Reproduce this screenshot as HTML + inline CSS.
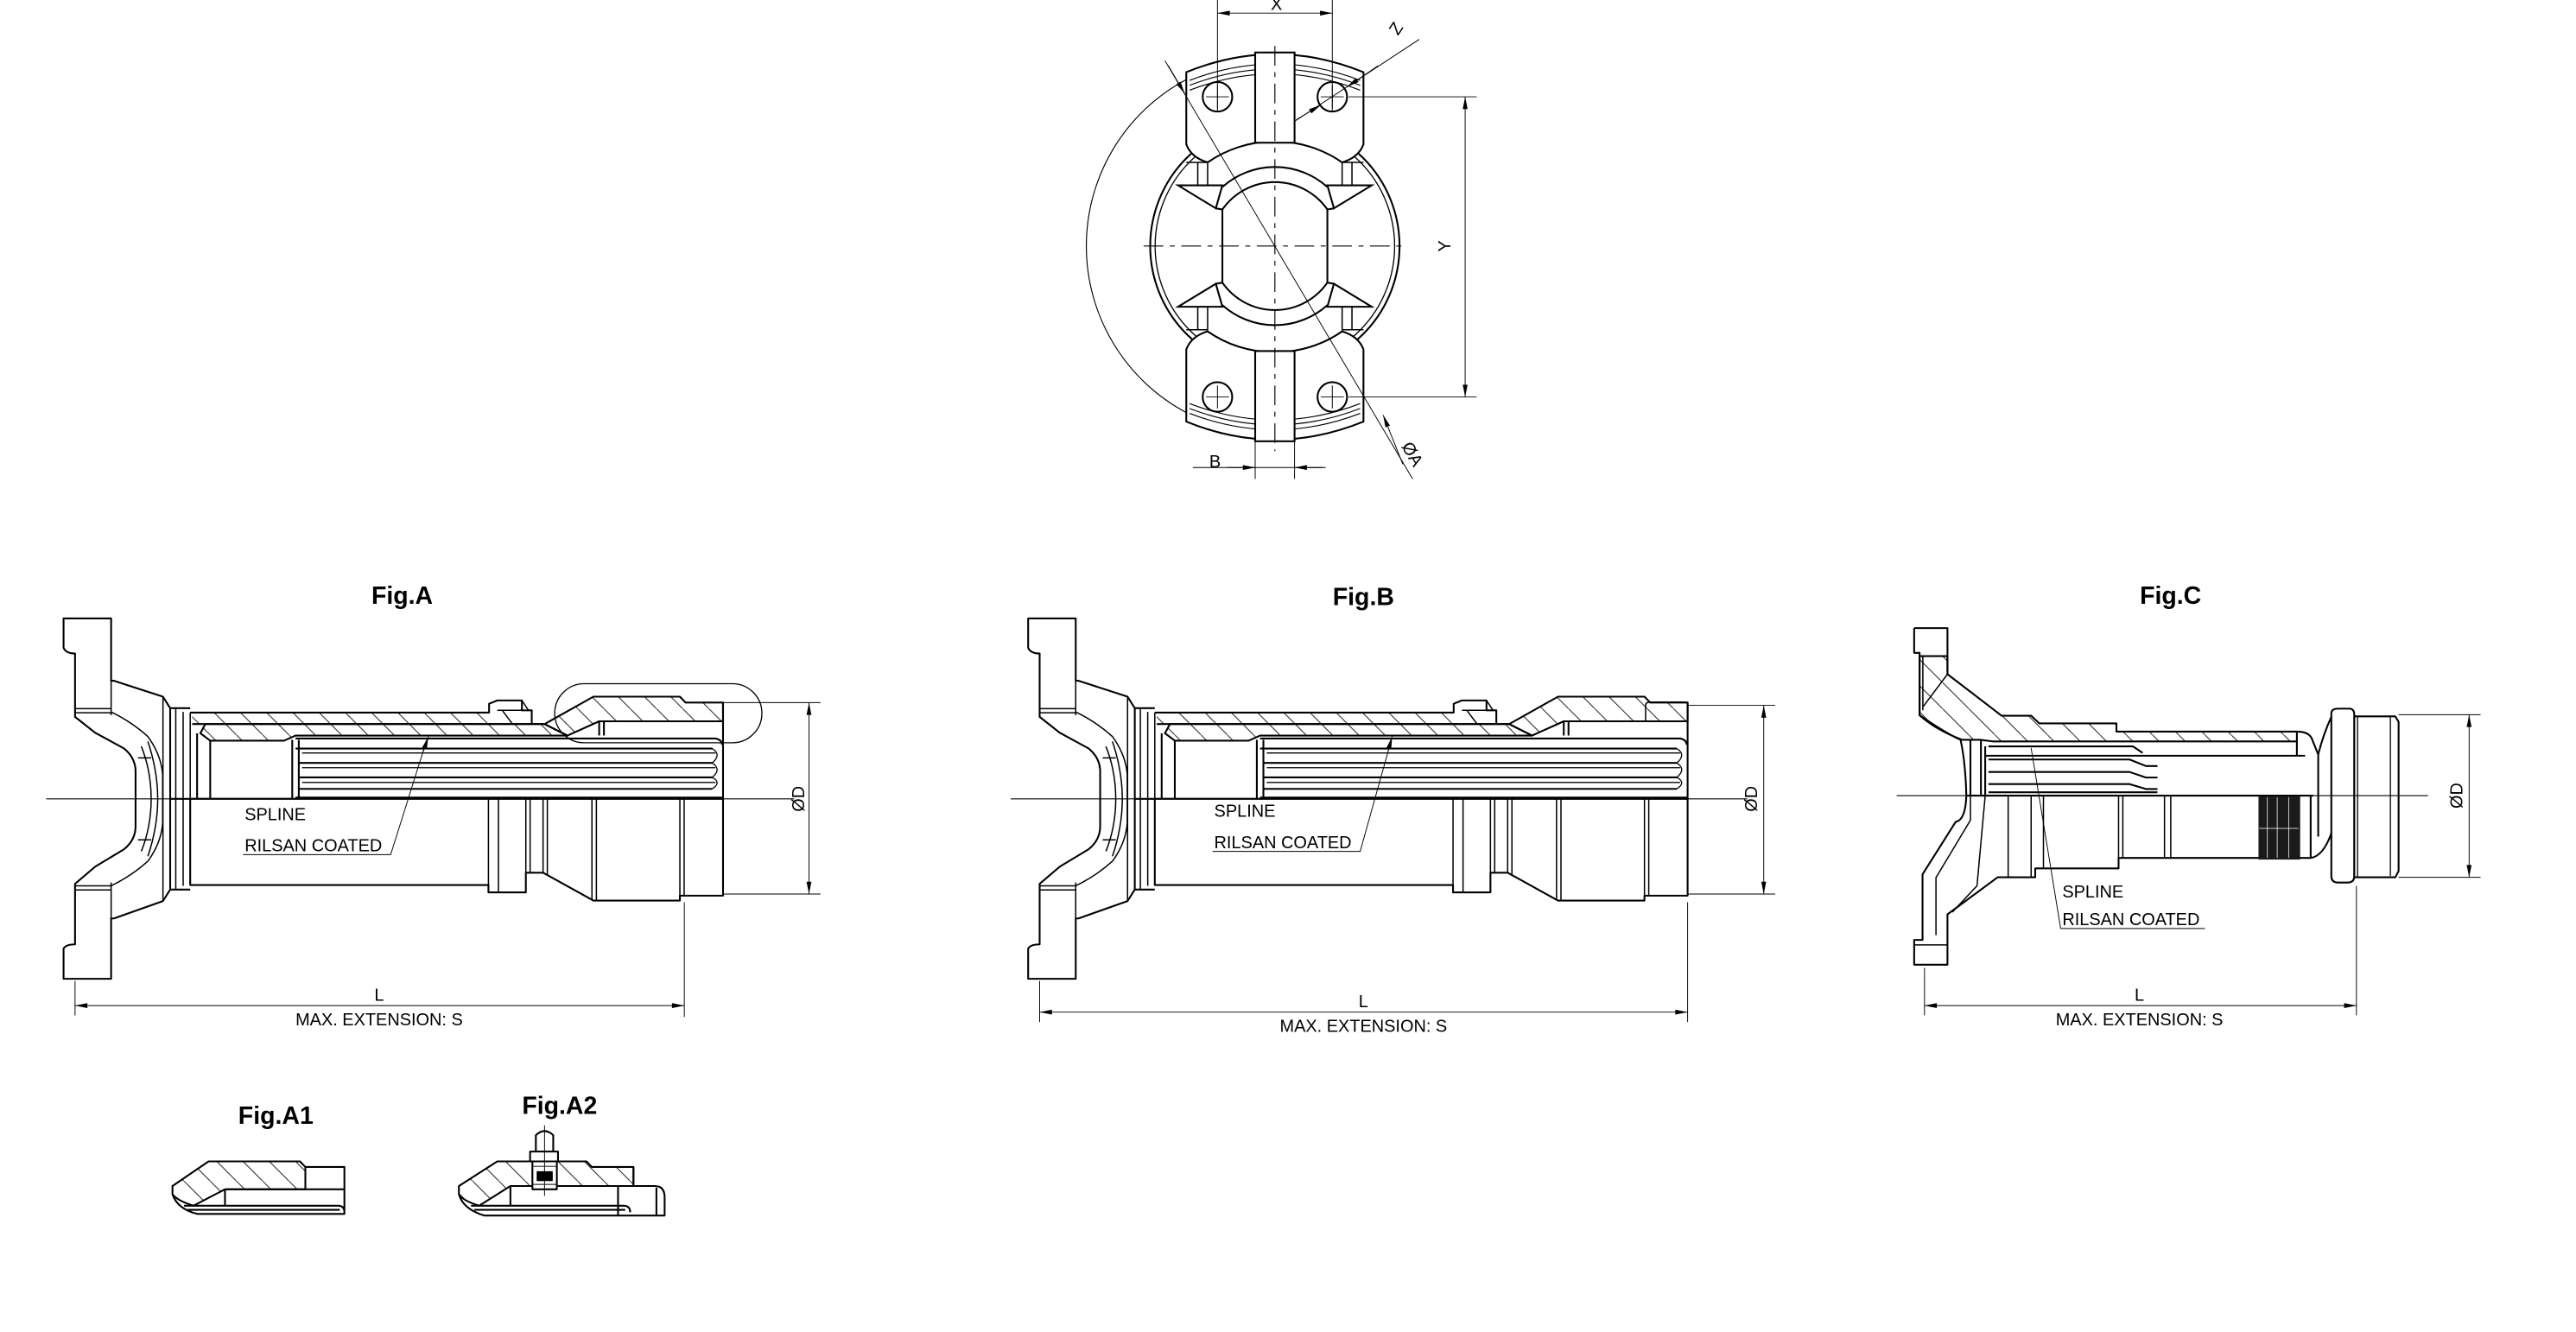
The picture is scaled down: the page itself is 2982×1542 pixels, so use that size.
<!DOCTYPE html>
<html><head><meta charset="utf-8"><style>
html,body{margin:0;padding:0;background:#fff;}
svg{display:block;}
text{font-family:"Liberation Sans",sans-serif;fill:#000;}
.t{font-weight:bold;font-size:15px;text-anchor:middle;}
.l{font-size:10.5px;}
</style></head><body>
<svg xmlns="http://www.w3.org/2000/svg" width="2982" height="1542" viewBox="0 0 1570 812">
<defs>
<pattern id="h" patternUnits="userSpaceOnUse" width="16" height="16"><path d="M-4,-4 L20,20" stroke="#000" stroke-width="0.45"/></pattern>
<marker id="a" viewBox="0 0 10 4" refX="10" refY="2" markerWidth="8" markerHeight="3" orient="auto-start-reverse" markerUnits="userSpaceOnUse"><path d="M0,0 L10,2 L0,4z" fill="#000"/></marker>
<g id="body" fill="none" stroke="#000" stroke-width="1.1" stroke-linejoin="round">
 <!-- flange -->
 <path fill="#fff" d="M38.6,377 H67.6 V415 L69.3,415 L99.2,424.7 L103.6,431.7 V542.3 L99.2,549.3 L69.3,559.9 H67.6 V596.7 H38.6 V578.3 Q40,575.7 45.6,575.7 V538.8 L57.9,528.3 L75.5,517.7 Q82.5,512 82.5,503.7 V470.4 Q82.5,462 75.5,456.3 L57.9,446.7 L45.6,437 V398.4 Q40,398.4 38.6,394.9 Z"/>
 <path stroke-width="0.8" d="M67.6,415 V436 M67.6,538 V560 M45.6,432 H67.6 M45.6,434.5 H67.6 M45.6,540 H67.6 M45.6,542.5 H67.6 M67.6,434 Q80,440 90,449 Q98,460 99,472 V502 Q98,514 90,525 Q80,534 67.6,540 M90,452 Q96,470 96,487 Q96,504 90,522 M86,455 Q92,470 92,487 Q92,504 86,519 M99.2,424.7 V549.3 M84,462 H92 M84,512 H92"/>
 <!-- hub -->
 <path stroke-width="0.8" d="M107,432 V542 M111.5,434 V540 M115.8,434.4 V539.5"/>
 <path d="M103.6,431.7 H115.8 M103.6,542.3 H115.8"/>
 <!-- top tube section -->
 <rect x="117" y="434.4" width="181" height="7" fill="url(#h)" stroke="none"/>
 <path d="M115.8,434.4 H298 V429 L303,427 H318 V433 H324 V441.4 M117,441.4 H331.8"/>
 <path fill="url(#h)" d="M125,441.4 H331.8 L345.8,448.4 H180 L173,451.5 H128 L122,447 Z"/>
 <path stroke-width="0.8" d="M303,433 H318 M306,433 L312,441 M318,427 L322,433"/>
 <!-- sleeve -->
 <path fill="url(#h)" d="M331.8,441.4 L361.6,424.7 H414.3 L417.8,428.3 H440.6 V439.7 H365.1 L345.8,448.4 Z"/>
 <path d="M440.6,428.3 V487 M365.1,439.7 V448.4 M368,439.7 V448.4"/>
 <!-- spline -->
 <path d="M180,450.2 H436 Q440,451 440,454 M180,456.3 H434 M182,465.1 H434 M182,473.9 H434 M182,480.9 H434 M180,486.2 H440"/>
 <path stroke-width="0.7" d="M184,459 H436 M184,468 H436 M184,477 H436 M434,456.3 Q440,460 434,465.1 M434,465.1 Q440,469 434,473.9 M434,473.9 Q440,477 434,480.9"/>
 <path d="M120,447 V487 M128,451 V487 M178,451 V487 M182,451 V487"/>
 <!-- centerline-level line -->
 <path d="M103.6,487 H440.6"/>
 <!-- bottom exterior -->
 <path fill="#fff" d="M115.8,487 V539.5 H297.6 V544 H320.4 V532 H330.9 L361.6,549 H414.3 V546 H440.6 V487 Z"/>
 <path stroke-width="0.8" d="M297.6,487 V544 M303.7,487 V544 M320.4,487 V532 M323,487 V532 M330.9,487 V532 M333.5,487 V533 M360.7,487 V549 M363.4,487 V549 M414.3,487 V549 M416.9,487 V546"/>
</g>
</defs>
<rect width="1570" height="812" fill="#fff"/>

<!-- ================= TOP VIEW ================= -->
<g fill="none" stroke="#000" stroke-width="1.1">
 <path stroke-width="0.6" d="M723,48.5 A115,115 0 0 0 723,251.5"/>
 <circle cx="777" cy="150" r="76" fill="#fff"/>
 <circle cx="777" cy="150" r="73" stroke-width="0.7"/>
 <!-- bosses -->
 <path fill="#fff" d="M718,113 H745 L741,127 Z M836,113 H809 L813,127 Z M718,187 H745 L741,173 Z M836,187 H809 L813,173 Z"/>
 <path stroke-width="0.8" d="M723,99 H736 V113 M831,99 H818 V113 M723,201 H736 V187 M831,201 H818 V187 M730,99 V113 M824,99 V113 M730,201 V187 M824,201 V187"/>
 <!-- ring -->
 <path d="M745,114 A48,48 0 0 1 809,114 M745,186 A48,48 0 0 0 809,186"/>
 <path d="M745,127.7 A39,39 0 0 1 809,127.7 M745,172.3 A39,39 0 0 0 809,172.3 M745,127.7 V172.3 M809,127.7 V172.3 M741,127 L745,127.7 M813,127 L809,127.7 M741,173 L745,172.3 M813,173 L809,172.3"/>
 <!-- top ear -->
 <g id="ear">
  <path fill="#fff" d="M723,44 Q777,22 831,44 V88 Q828,96 818,99 A72,72 0 0 0 736,99 Q726,96 723,88 Z"/>
  <path stroke-width="0.6" d="M725,49 Q777,29 829,49 M725,52 Q777,32 829,52 M725,55 Q777,35 829,55"/>
  <rect x="765" y="32" width="24" height="55" fill="#fff"/>
  <circle cx="742" cy="59" r="9"/>
  <circle cx="812" cy="59" r="9"/>
  <path stroke-width="0.5" d="M735,59 H749 M742,52 V66 M805,59 H819 M812,52 V66"/>
 </g>
 <use href="#ear" transform="matrix(1,0,0,-1,0,301)"/>
 <!-- centerlines -->
 <path stroke-width="0.6" stroke-dasharray="12,4,3,4" d="M697,150 H858 M777,28 V275"/>
 <!-- diameter A line -->
 <path stroke-width="0.5" d="M710,37 L861,292"/>
 <path stroke-width="0.5" marker-end="url(#a)" d="M712,40 L722,57"/>
 <path stroke-width="0.5" marker-end="url(#a)" d="M855,283 L843,253"/>
 <!-- Z line -->
 <path stroke-width="0.5" d="M789,74 L865,24"/>
 <path stroke-width="0.5" marker-end="url(#a)" d="M790,73 L805,64"/>
 <path stroke-width="0.5" marker-end="url(#a)" d="M840,40 L821,53"/>
 <!-- X dim -->
 <path stroke-width="0.5" d="M742,0 V68 M812,0 V68"/>
 <path stroke-width="0.5" marker-start="url(#a)" marker-end="url(#a)" d="M742,8 H812"/>
 <!-- Y dim -->
 <path stroke-width="0.5" d="M822,59 H900 M822,242 H900"/>
 <path stroke-width="0.5" marker-start="url(#a)" marker-end="url(#a)" d="M893,59 V242"/>
 <!-- B dim -->
 <path stroke-width="0.5" d="M765,262 V292 M789,262 V292 M727,285 H808"/>
 <path stroke-width="0.5" marker-end="url(#a)" d="M748,285 H765"/>
 <path stroke-width="0.5" marker-end="url(#a)" d="M806,285 H789"/>
</g>
<text class="l" x="778" y="6" text-anchor="middle">X</text>
<text class="l" transform="translate(852,22) rotate(-56)" >Z</text>
<text class="l" transform="translate(884,150) rotate(-90)" text-anchor="middle">Y</text>
<text class="l" x="737" y="285">B</text>
<text class="l" transform="translate(854,272) rotate(60)">ØA</text>

<!-- ================= FIG A ================= -->
<text class="t" x="245" y="368">Fig.A</text>
<use href="#body"/>
<g fill="none" stroke="#000">
 <rect x="338" y="416.8" width="126.3" height="36" rx="18" stroke-width="0.7"/>
 <path stroke-width="0.6" d="M28,487 H484"/>
 <path stroke-width="0.5" d="M440.6,428.3 H500 M440.6,545 H500 M45.6,598 V619 M417,550 V620"/>
 <path stroke-width="0.5" marker-start="url(#a)" marker-end="url(#a)" d="M493,428.3 V545"/>
 <path stroke-width="0.5" marker-start="url(#a)" marker-end="url(#a)" d="M45.6,613 H417"/>
 <path stroke-width="0.5" d="M148,521 H238 L260,451"/>
 <path stroke-width="0.5" marker-end="url(#a)" d="M258,458 L261,449"/>
</g>
<text class="l" x="149" y="500">SPLINE</text>
<text class="l" x="149" y="519">RILSAN COATED</text>
<text class="l" x="231" y="610" text-anchor="middle">L</text>
<text class="l" x="231" y="625" text-anchor="middle">MAX. EXTENSION: S</text>
<text class="l" transform="translate(490,487) rotate(-90)" text-anchor="middle">ØD</text>

<!-- ================= FIG B ================= -->
<text class="t" x="831" y="369">Fig.B</text>
<use href="#body" transform="translate(588,0)"/>
<g fill="none" stroke="#000">
 <path stroke-width="0.8" d="M1003,440 V430 Q1003,428 1006,428 H1028"/>
 <path stroke-width="0.6" d="M616,487 H1065"/>
 <path stroke-width="0.5" d="M1028.6,430 H1082 M1028.6,545 H1082 M633.6,598 V623 M1028.6,550 V623"/>
 <path stroke-width="0.5" marker-start="url(#a)" marker-end="url(#a)" d="M1075,430 V545"/>
 <path stroke-width="0.5" marker-start="url(#a)" marker-end="url(#a)" d="M633.6,617 H1028.6"/>
 <path stroke-width="0.5" d="M739,519 H829 L848,451"/>
 <path stroke-width="0.5" marker-end="url(#a)" d="M846,458 L848.5,449"/>
</g>
<text class="l" x="740" y="498">SPLINE</text>
<text class="l" x="740" y="517">RILSAN COATED</text>
<text class="l" x="831" y="614" text-anchor="middle">L</text>
<text class="l" x="831" y="629" text-anchor="middle">MAX. EXTENSION: S</text>
<text class="l" transform="translate(1071,487) rotate(-90)" text-anchor="middle">ØD</text>

<!-- ================= FIG C ================= -->
<text class="t" x="1323" y="368">Fig.C</text>
<g fill="none" stroke="#000" stroke-width="1.1" stroke-linejoin="round">
 <!-- top flange & sleeve outline -->
 <path fill="url(#h)" d="M1170,400 H1187 V411 L1220,436.3 H1238 L1243,441 H1290 V446 H1400 V452 H1215 L1207,451 L1196,451 Q1180,445 1170,436 Z"/>
 <path d="M1166.7,382.9 H1187 V411 M1166.7,382.9 V398 H1170 V436 Q1186,447 1195,451 Q1198,465 1198.5,485"/>
 <path d="M1400,446 Q1407,446 1409,450 L1413,460 Q1416,448 1421,437"/>
 <path d="M1210,460.7 H1405 M1400,452 V460.7"/>
 <!-- spline teeth -->
 <path d="M1212,455 H1300 L1306,459 M1212,463 H1298 L1308,467 H1315 M1212,470.6 H1298 L1308,474 H1315 M1212,478 H1298 L1308,481 H1315 M1212,483 H1315"/>
 <path d="M1201,451 V485 M1207.4,451 V485 M1210,455 V485"/>
 <!-- centerline row -->
 <path d="M1198.5,485 H1410"/>
 <!-- cap -->
 <path fill="#fff" d="M1421,435 Q1421,432 1425,432 H1432 Q1435,432 1435,436 V534 Q1435,538 1431,538 H1425 Q1421,538 1421,534 Z"/>
 <path fill="#fff" d="M1435,436.7 H1460 L1462,440 V531 L1460,534.8 H1435 Z"/>
 <path stroke-width="0.7" d="M1457,437 V534 M1437,436.7 V534.8"/>
 <!-- neck -->
 <path d="M1413,460 V510 M1408.4,485 V523 Q1416,522 1421,508"/>
 <!-- bottom shaft -->
 <path d="M1198.5,485 Q1198,500 1192,501 L1171.8,533 V573 H1166.7 V588.1 H1187 V557.4 L1217.6,534.8 H1240.5 V529.4 H1291.3 V523 H1408.4"/>
 <path stroke-width="0.8" d="M1166.7,576 H1187 M1224,485 V535 M1238,485 V535 M1245.5,485 V529.4 M1291.3,485 V529.4 M1293.9,485 V523 M1319.3,485 V523 M1323.1,485 V523 M1210,485 L1205,540 L1190,556 M1201,485 V500 L1180,535 V570"/>
 <path stroke-width="0.8" d="M1172,433 V400 M1187,411 L1172,431"/>
 <rect x="1376.6" y="485" width="25.4" height="39" fill="#1a1a1a" stroke="none"/>
 <path stroke="#fff" stroke-width="0.4" d="M1382,486 V523 M1388,486 V523 M1395,486 V523 M1377,505 H1401"/>
 <!-- dims -->
 <path stroke-width="0.6" d="M1156,485 H1480"/>
 <path stroke-width="0.5" d="M1462,435.7 H1512 M1462,534.8 H1512 M1173,590 V619 M1436.3,540 V619"/>
 <path stroke-width="0.5" marker-start="url(#a)" marker-end="url(#a)" d="M1505,435.7 V534.8"/>
 <path stroke-width="0.5" marker-start="url(#a)" marker-end="url(#a)" d="M1173,613 H1436.3"/>
 <path stroke-width="0.5" d="M1344,566 H1256 L1238,456"/>
</g>
<text class="l" x="1257" y="547">SPLINE</text>
<text class="l" x="1257" y="564">RILSAN COATED</text>
<text class="l" x="1304" y="610" text-anchor="middle">L</text>
<text class="l" x="1304" y="625" text-anchor="middle">MAX. EXTENSION: S</text>
<text class="l" transform="translate(1501,485) rotate(-90)" text-anchor="middle">ØD</text>

<!-- ================= FIG A1 ================= -->
<text class="t" x="168" y="685">Fig.A1</text>
<g fill="none" stroke="#000" stroke-width="1.1" stroke-linejoin="round">
 <path fill="url(#h)" d="M105,723 L127,708 H182.7 L186,711.4 V725 H137 L117.8,735 Q108,732 105,728 Z"/>
 <path d="M186,711.4 H209.8 V740 H120 Q108,737 105,728 M137,725 H209.8 M137,725 V735 M112,735 H206 Q209.8,735 209.8,739 M114,737.5 H207"/>
</g>

<!-- ================= FIG A2 ================= -->
<text class="t" x="341" y="679">Fig.A2</text>
<g fill="none" stroke="#000" stroke-width="1.1" stroke-linejoin="round">
 <path fill="url(#h)" d="M279.6,723 L303,708 H357.4 L360.6,711.4 H386 V723 H311 L292,735 Q282,732 279.6,728 Z"/>
 <path d="M279.6,728 Q282,737 295,741 H405 V730 Q405,723 398.9,723 H376.6 V741 M386,711.4 V723 M311,723 V735 M287,735 H380 Q384,735 384,739 M289,737.5 H381 M400,724 V741"/>
 <path fill="#fff" d="M326.5,702 V692 Q331.8,687 337.1,692 V702 Z"/>
 <rect x="323" y="702" width="17" height="6" fill="#fff"/>
 <rect x="324.4" y="708" width="14.9" height="17" fill="#fff"/>
 <rect x="327" y="714" width="9.8" height="6" fill="#000" stroke="none"/>
 <path stroke-width="0.5" d="M331.8,686 V729 M324.4,711 H339.3 M324.4,722 H339.3"/>
</g>
</svg>
</body></html>
